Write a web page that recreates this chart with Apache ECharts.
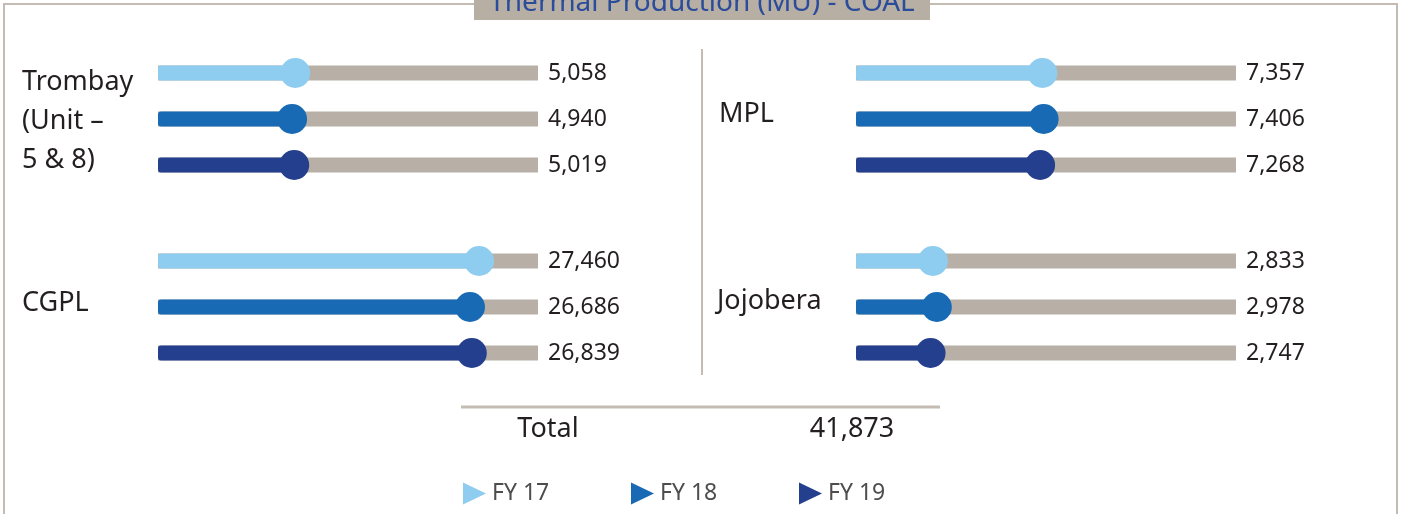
<!DOCTYPE html>
<html>
<head>
<meta charset="utf-8">
<script src="https://cdn.jsdelivr.net/npm/echarts@6/dist/echarts.min.js"></script>
<style>
  html, body { margin: 0; padding: 0; background: #fff; }
  #main { width: 1402px; height: 514px; }
</style>
</head>
<body>
<div id="main"></div>
<script>
let years = ['FY 17', 'FY 18', 'FY 19'];
let plants = ['Trombay\n(Unit –\n5 & 8)', 'CGPL', 'MPL', 'Jojobera'];
let fy17 = [5058, 27460, 7357, 2833];
let fy18 = [4940, 26686, 7406, 2978];
let fy19 = [5019, 26839, 7268, 2747];
// scale end of each plant's track
let axisMax = [14000, 32500, 15000, 14000];

let colors = ['#8ecdf0', '#186ab4', '#243f8e'];
let trackColor = '#b8b0a6';
let lineColor = '#c4bcb3';
let font = 'Noto Sans';

let chartDom = document.getElementById('main');
let myChart = echarts.init(chartDom);

let byYear = [fy17, fy18, fy19];
let total = fy19.reduce(function(a, b) { return a + b; }, 0);
let fmt = function(v) { return v.toLocaleString('en-US'); };

// grid placement: left column = Trombay, CGPL; right column = MPL, Jojobera
let gridPos = [
	{ left: 158, top: 50 },
	{ left: 158, top: 238 },
	{ left: 856, top: 50 },
	{ left: 856, top: 238 }
];
let labelPos = [
	{ left: 22, top: 63 },
	{ left: 22, top: 284 },
	{ left: 719, top: 95 },
	{ left: 717, top: 282 }
];

let grid = [], xAxis = [], yAxis = [], series = [], title = [];

plants.forEach(function(name, g) {
	grid.push({
		left: gridPos[g].left,
		top: gridPos[g].top,
		width: 380,
		height: 138,
		outerBoundsMode: 'none'
	});
	xAxis.push({
		type: 'value',
		gridIndex: g,
		min: 0,
		max: axisMax[g],
		show: false
	});
	yAxis.push({
		type: 'category',
		gridIndex: g,
		data: years,
		inverse: true,
		show: false
	});
	yAxis.push({
		type: 'category',
		gridIndex: g,
		position: 'right',
		inverse: true,
		data: byYear.map(function(arr) { return fmt(arr[g]); }),
		axisLine: { show: false },
		axisTick: { show: false },
		axisLabel: {
			margin: 10,
			color: '#231f20',
			fontSize: 23,
			fontFamily: font
		}
	});
	title.push({
		text: name,
		left: labelPos[g].left,
		top: labelPos[g].top,
		padding: 0,
		textStyle: {
			color: '#231f20',
			fontSize: 27,
			fontWeight: 'normal',
			fontFamily: font,
			lineHeight: 39
		}
	});
	years.forEach(function(yr, i) {
		series.push({
			name: yr,
			type: 'bar',
			xAxisIndex: g,
			yAxisIndex: g * 2,
			barWidth: 15,
			barGap: '-100%',
			data: [[byYear[i][g], i]],
			itemStyle: { color: colors[i], borderRadius: [3, 0, 0, 3] },
			showBackground: true,
			backgroundStyle: { color: trackColor },
			silent: true
		});
		series.push({
			name: yr,
			type: 'scatter',
			xAxisIndex: g,
			yAxisIndex: g * 2,
			symbolSize: 30,
			data: [[byYear[i][g], i]],
			itemStyle: { color: colors[i], opacity: 1 },
			z: 5,
			silent: true
		});
	});
});

let legend = years.map(function(yr, i) {
	return {
		data: [{ name: yr, icon: 'path://M0,0 L23,11 L0,22 Z' }],
		left: 463 + 168 * i,
		top: 482,
		itemWidth: 23,
		itemHeight: 22,
		selectedMode: false,
		padding: 0,
		textStyle: { color: '#4d4d4d', fontSize: 23, fontFamily: font, padding: [0, 0, 0, 1] }
	};
});

let option = {
	backgroundColor: '#fff',
	animation: false,
	title: title,
	legend: legend,
	grid: grid,
	xAxis: xAxis,
	yAxis: yAxis,
	series: series,
	graphic: [
		{
			type: 'rect',
			shape: { x: 4, y: 4, width: 1393, height: 600 },
			style: { fill: 'none', stroke: lineColor, lineWidth: 2 },
			z: 1
		},
		{
			type: 'rect',
			shape: { x: 474, y: -10, width: 456, height: 30 },
			style: { fill: '#b7aea4' },
			z: 2
		},
		{
			type: 'text',
			x: 702,
			y: 3,
			style: {
				text: 'Thermal Production (MU) - COAL',
				fill: '#2b4c9b',
				fontSize: 28,
				fontFamily: font,
				align: 'center',
				verticalAlign: 'middle'
			},
			z: 3
		},
		{
			type: 'line',
			shape: { x1: 702, y1: 49, x2: 702, y2: 375 },
			style: { stroke: lineColor, lineWidth: 2 }
		},
		{
			type: 'line',
			shape: { x1: 461, y1: 407, x2: 940, y2: 407 },
			style: { stroke: lineColor, lineWidth: 3 }
		},
		{
			type: 'text',
			x: 548,
			y: 429,
			style: {
				text: 'Total',
				fill: '#231f20',
				fontSize: 27,
				fontFamily: font,
				align: 'center',
				verticalAlign: 'middle'
			}
		},
		{
			type: 'text',
			x: 852,
			y: 429,
			style: {
				text: fmt(total),
				fill: '#231f20',
				fontSize: 27,
				fontFamily: font,
				align: 'center',
				verticalAlign: 'middle'
			}
		}
	]
};

option && myChart.setOption(option);
</script>
</body>
</html>
